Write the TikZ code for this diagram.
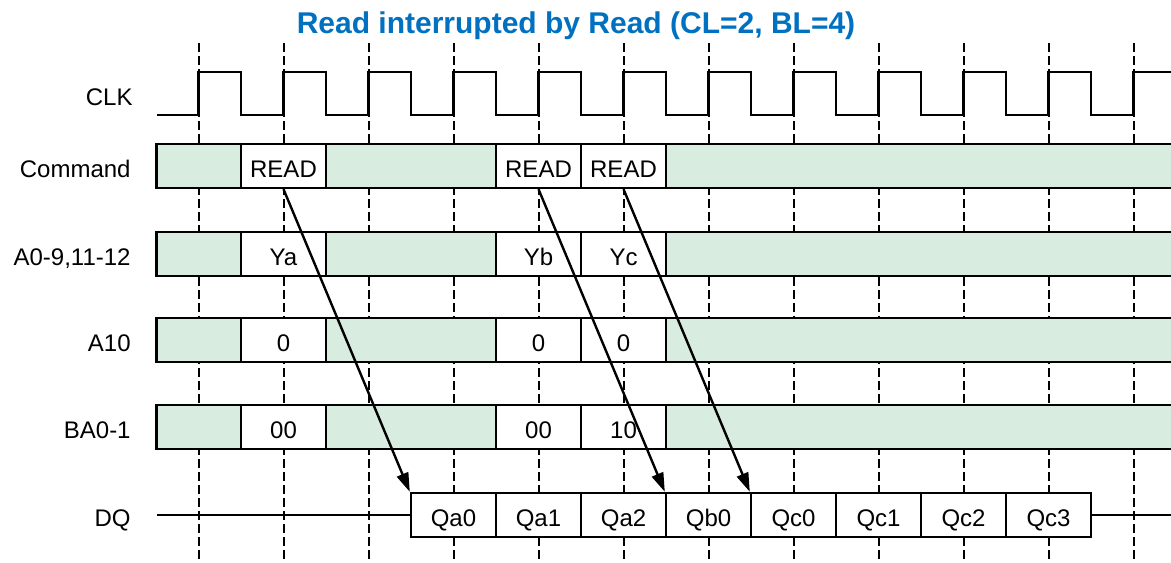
\documentclass[tikz,border=0pt]{standalone}
\usepackage{fontspec}
\setmainfont{Liberation Sans}
\usetikzlibrary{arrows.meta}
\definecolor{busgreen}{RGB}{217,236,224}
\definecolor{titleblue}{RGB}{0,112,192}

\begin{document}
\begin{tikzpicture}[x=0.5pt,y=-0.5pt,
  sig/.style={line width=1.2pt},
  edgeline/.style={line width=1pt,dash pattern=on 4.5pt off 2pt},
  bus/.style={draw,line width=1.2pt,fill=busgreen},
  cell/.style={draw,line width=1.2pt,fill=white,minimum width=42.5pt,minimum height=22pt,inner sep=0pt,text height=11pt,text depth=0pt,font=\fontsize{12}{14}\selectfont},
  lbl/.style={anchor=east,inner sep=0pt,text height=11pt,text depth=0pt,font=\fontsize{12}{14}\selectfont},
  lat/.style={line width=1.2pt,-{Triangle[length=9.5pt,width=6pt]}}]

\useasboundingbox (0,0) rectangle (1171,562); % Page size

\node[anchor=base,font=\bfseries\fontsize{15}{18}\selectfont,text=titleblue] (title) at (576,33.7) {Read interrupted by Read (CL=2, BL=4)}; % Title

% Rising clock edges
\draw[edgeline] (198.5,43) -- (198.5,562);
\draw[edgeline] (283.5,43) -- (283.5,562);
\draw[edgeline] (368.5,43) -- (368.5,562);
\draw[edgeline] (453.5,43) -- (453.5,562);
\draw[edgeline] (538.5,43) -- (538.5,562);
\draw[edgeline] (623.5,43) -- (623.5,562);
\draw[edgeline] (708.5,43) -- (708.5,562);
\draw[edgeline] (793.5,43) -- (793.5,562);
\draw[edgeline] (878.5,43) -- (878.5,562);
\draw[edgeline] (963.5,43) -- (963.5,562);
\draw[edgeline] (1048.5,43) -- (1048.5,562);
\draw[edgeline] (1133.5,43) -- (1133.5,562);

% Clock
\draw[sig] (156.5,115) -- (198.5,115) |- (241,72) |- (283.5,115) |- (326,72) |- (368.5,115)
  |- (411,72) |- (453.5,115) |- (496,72) |- (538.5,115) |- (581,72) |- (623.5,115)
  |- (666,72) |- (708.5,115) |- (751,72) |- (793.5,115) |- (836,72) |- (878.5,115)
  |- (921,72) |- (963.5,115) |- (1006,72) |- (1048.5,115) |- (1091,72) |- (1133.5,115) |- (1176,72);

% Signal names
\node[lbl] (clk) at (133,94) {CLK};
\node[lbl] (cmd) at (131,166) {Command};
\node[lbl] (addr) at (131,254) {A0-9,11-12};
\node[lbl] (ap) at (131,340) {A10};
\node[lbl] (bank) at (131,427) {BA0-1};
\node[lbl] (dq) at (131,515) {DQ};

% Buses (don't care)
\draw[bus] (156.5,144) rectangle (1176,188); % Command
\draw[bus] (156.5,232) rectangle (1176,276); % Address
\draw[bus] (156.5,318) rectangle (1176,362); % A10
\draw[bus] (156.5,405) rectangle (1176,449); % Bank address

% Commands
\node[cell] (read1) at (283.5,166) {READ};
\node[cell] (read2) at (538.5,166) {READ};
\node[cell] (read3) at (623.5,166) {READ};

% Column addresses
\node[cell] (ya) at (283.5,254) {Ya};
\node[cell] (yb) at (538.5,254) {Yb};
\node[cell] (yc) at (623.5,254) {Yc};

% Auto precharge off
\node[cell] (apa) at (283.5,340) {0};
\node[cell] (apb) at (538.5,340) {0};
\node[cell] (apc) at (623.5,340) {0};

% Banks
\node[cell] (ba) at (283.5,427) {00};
\node[cell] (bb) at (538.5,427) {00};
\node[cell] (bc) at (623.5,427) {10};

% Data out
\coordinate (dqin) at (156.5,515);
\coordinate (dqout) at (1176,515);
\node[cell] (qa0) at (453.5,515) {Qa0};
\node[cell] (qa1) at (538.5,515) {Qa1};
\node[cell] (qa2) at (623.5,515) {Qa2};
\node[cell] (qb0) at (708.5,515) {Qb0};
\node[cell] (qc0) at (793.5,515) {Qc0};
\node[cell] (qc1) at (878.5,515) {Qc1};
\node[cell] (qc2) at (963.5,515) {Qc2};
\node[cell] (qc3) at (1048.5,515) {Qc3};
\draw[sig] (dqin) -- (qa0.west);
\draw[sig] (qc3.east) -- (dqout);

% CAS latency
\draw[lat] (read1.south) -- (qa0.north west);
\draw[lat] (read2.south) -- (qb0.north west);
\draw[lat] (read3.south) -- (qc0.north west);

\end{tikzpicture}
\end{document}
